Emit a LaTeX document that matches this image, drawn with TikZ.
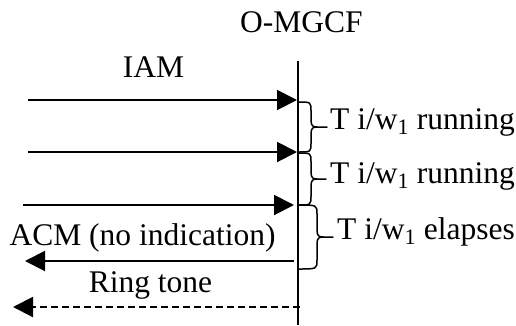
\documentclass[tikz,border=0pt]{standalone}
\usepackage{fontspec}
\setmainfont{Liberation Serif}
\usetikzlibrary{arrows.meta}
\newcommand\drawbrace[5]{%
  \pgfmathsetmacro\bm{(#2+#3)/2}%
  \draw[bracepath] (#1,#2) .. controls (#4,#2) and (#4,#2) .. (#4,#2+9) -- (#4,\bm-7) .. controls (#4,\bm-1) and (#4+2,\bm) .. (#4+6,\bm) -- (#5,\bm);
  \draw[bracepath] (#1,#3) .. controls (#4,#3) and (#4,#3) .. (#4,#3-9) -- (#4,\bm+7) .. controls (#4,\bm+1) and (#4+2,\bm) .. (#4+6,\bm);
}
\begin{document}
\begin{tikzpicture}[x=1pt,y=-1pt,
  lbl/.style={font=\fontsize{31.5}{36}\selectfont, inner sep=0pt, anchor=base},
  msg/.style={line width=2pt, -{Triangle[length=20pt,width=20pt]}},
  dmsg/.style={msg, dash pattern=on 7pt off 4pt},
  life/.style={line width=1.3pt},
  bracepath/.style={line width=1.5pt, line cap=round}]
\useasboundingbox (0,0) rectangle (516,325);
% lifeline
\node[lbl] (omgcf) at (301.5,32) {O-MGCF};
\coordinate (ltop) at (298,61);
\coordinate (lbot) at (298,325);
\draw[life] (ltop) -- (lbot);
% message end points
\coordinate (a1s) at (28,100);  \coordinate (a1e) at (297,100);
\coordinate (a2s) at (28,152);  \coordinate (a2e) at (297,152);
\coordinate (a3s) at (23,205);  \coordinate (a3e) at (294,205);
\coordinate (acms) at (294,261); \coordinate (acme) at (25,261);
\coordinate (rts) at (300,307); \coordinate (rte) at (13,307);
\draw[msg] (a1s) -- (a1e);
\draw[msg] (a2s) -- (a2e);
\draw[msg] (a3s) -- (a3e);
\draw[msg] (acms) -- (acme);
\draw[dmsg] (rts) -- (rte);
% labels
\node[lbl] (iam) at (153.5,77) {IAM};
\node[lbl] (acm) at (142.5,245) {ACM (no indication)};
\node[lbl] (ring) at (150.5,292) {Ring tone};
% braces
\drawbrace{298}{102}{152}{311}{327}
\drawbrace{298}{153}{205}{311}{326}
\drawbrace{298}{205}{269}{317}{333}
\node[lbl, anchor=base west] (t1) at (330,129) {T i/w\textsubscript{1} running};
\node[lbl, anchor=base west] (t2) at (330,183) {T i/w\textsubscript{1} running};
\node[lbl, anchor=base west] (t3) at (337,239) {T i/w\textsubscript{1} elapses};
\end{tikzpicture}
\end{document}
